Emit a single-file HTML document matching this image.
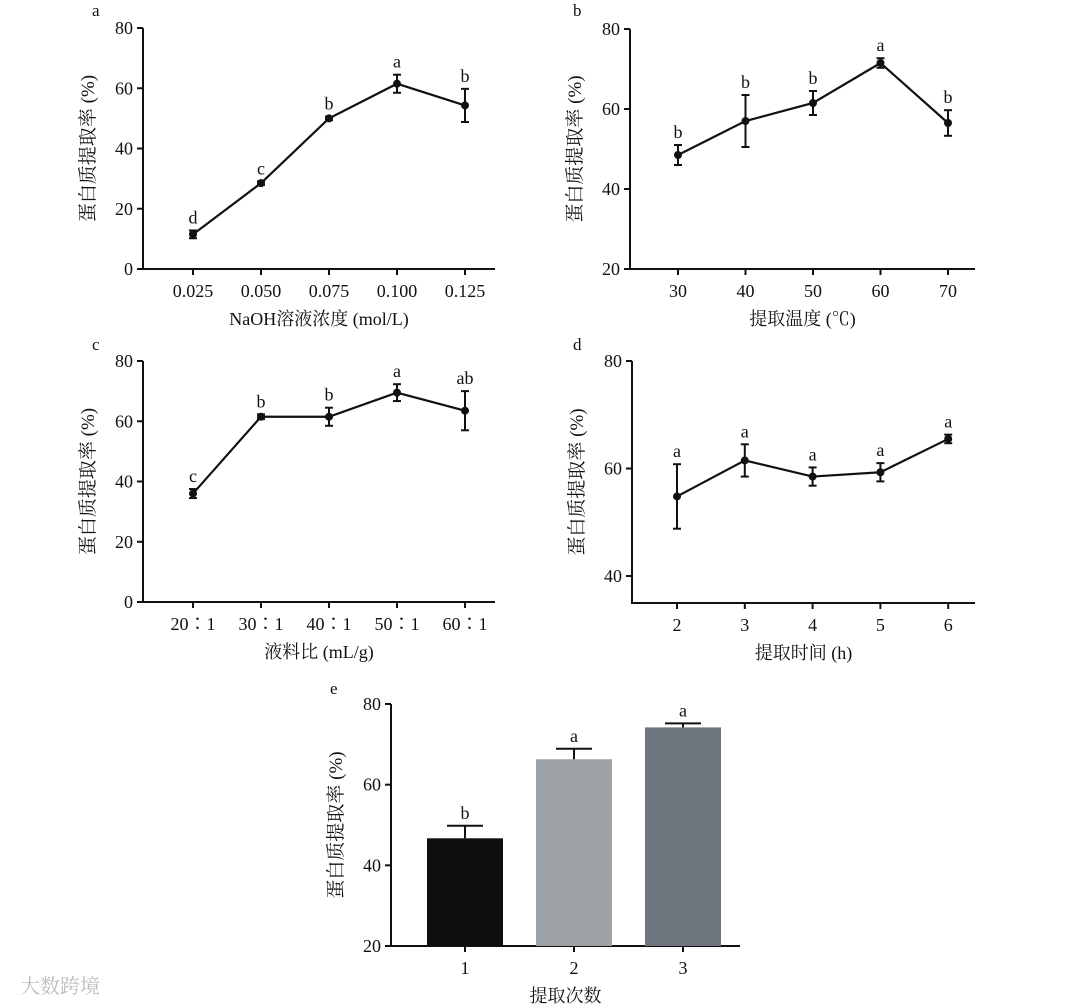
<!DOCTYPE html>
<html><head><meta charset="utf-8"><style>
html,body{margin:0;padding:0;background:#fff;}
svg{display:block;font-family:"Liberation Serif","Noto Serif CJK SC",serif;}
</style></head><body>
<svg id="chart" width="1080" height="1005" viewBox="0 0 1080 1005" xmlns="http://www.w3.org/2000/svg"></svg>
<script>
// Panel a
const aCats=["0.025","0.050","0.075","0.100","0.125"];
const aVals=[11.5,28.5,50,61.5,54.3];
const aErrs=[1.3,0.6,0.6,3,5.5];
const aSig=["d","c","b","a","b"];
const aTicks=[0,20,40,60,80];
// Panel b
const bCats=["30","40","50","60","70"];
const bVals=[48.5,57,61.5,71.5,56.5];
const bErrs=[2.5,6.5,3,1.2,3.2];
const bSig=["b","b","b","a","b"];
const bTicks=[20,40,60,80];
// Panel c
const cCats=["20∶1","30∶1","40∶1","50∶1","60∶1"];
const cVals=[36,61.5,61.5,69.5,63.5];
const cErrs=[1.5,0.8,3,2.8,6.5];
const cSig=["c","b","b","a","ab"];
const cTicks=[0,20,40,60,80];
// Panel d
const dCats=["2","3","4","5","6"];
const dVals=[54.8,61.5,58.5,59.3,65.5];
const dErrs=[6,3,1.7,1.7,0.8];
const dSig=["a","a","a","a","a"];
const dTicks=[40,60,80];
// Panel e
const eCats=["1","2","3"];
const eVals=[46.7,66.3,74.2];
const eErrs=[3.1,2.6,1];
const eSig=["b","a","a"];
const eTicks=[20,40,60,80];
const eColors=["#0e0e0e","#9ca2a6","#6e757e"];

const svg=document.getElementById('chart');
const NS='http://www.w3.org/2000/svg';
function mk(tag,attrs,parent){const e=document.createElementNS(NS,tag);for(const k in attrs)e.setAttribute(k,attrs[k]);(parent||svg).appendChild(e);return e;}
function txt(s,x,y,size,anchor,parent){const t=mk('text',{x:x,y:y,'font-size':size,'text-anchor':anchor||'middle',fill:'#111'},parent);t.textContent=s;return t;}

function panel(o){
  const g=mk('g',{});
  
  
  const ys=v=>o.y0+(v-o.vmin)*(o.y1-o.y0)/(o.vmax-o.vmin);
  const xs=i=>o.x0+i*o.dx;
  const lab=txt(o.id,o.lx,o.ly,17,'start',g);
  
  
  const ya=mk('line',{x1:o.ax,y1:ys(o.vmax),x2:o.ax,y2:o.bottom,stroke:'#111','stroke-width':2},g);
  
  
  const xa=mk('line',{x1:o.ax-1,y1:o.bottom,x2:o.xend,y2:o.bottom,stroke:'#111','stroke-width':2},g);
  
  
  o.ticks.forEach(t=>{
    mk('line',{x1:o.ax-6,y1:ys(t),x2:o.ax,y2:ys(t),stroke:'#111','stroke-width':2},g);
    const tl=txt(String(t),o.ax-10,ys(t)+6,18,'end',g);
    
    
  });
  o.cats.forEach((c,i)=>{
    mk('line',{x1:xs(i),y1:o.bottom,x2:xs(i),y2:o.bottom+6,stroke:'#111','stroke-width':2},g);
    const tl=txt(c,xs(i),o.bottom+28,18,'middle',g);
    
    
  });
  const xt=txt(o.xtitle,(o.ax+o.xend)/2,o.bottom+56,18,'middle',g);
  
  
  const yc=(ys(o.vmax)+o.bottom)/2;
  const yt=txt('蛋白质提取率 (%)',0,0,19,'middle',g);
  yt.setAttribute('transform','translate('+(o.ax-49)+','+yc+') rotate(-90)');
  
  
  if(o.bars){
    o.vals.forEach((v,i)=>{
      const top=ys(v);
      const r=mk('rect',{x:xs(i)-38,y:top,width:76,height:o.bottom-top,fill:o.colors[i]},g);
      
      
      const ye=ys(v+o.errs[i]);
      mk('line',{x1:xs(i),y1:top,x2:xs(i),y2:ye,stroke:'#111','stroke-width':2},g);
      mk('line',{x1:xs(i)-18,y1:ye,x2:xs(i)+18,y2:ye,stroke:'#111','stroke-width':2},g);
      const s=txt(o.sig[i],xs(i),ye-7,18,'middle',g);
      
      
    });
  } else {
    const pts=o.vals.map((v,i)=>xs(i)+','+ys(v)).join(' ');
    const pl=mk('polyline',{points:pts,fill:'none',stroke:'#111','stroke-width':2.2},g);
    
    
    o.vals.forEach((v,i)=>{
      const hi=ys(v+o.errs[i]),lo=ys(v-o.errs[i]);
      mk('line',{x1:xs(i),y1:hi,x2:xs(i),y2:lo,stroke:'#111','stroke-width':2},g);
      mk('line',{x1:xs(i)-4,y1:hi,x2:xs(i)+4,y2:hi,stroke:'#111','stroke-width':2},g);
      mk('line',{x1:xs(i)-4,y1:lo,x2:xs(i)+4,y2:lo,stroke:'#111','stroke-width':2},g);
      const p=mk('circle',{cx:xs(i),cy:ys(v),r:4,fill:'#111'},g);
      
      
      const s=txt(o.sig[i],xs(i),hi-7,18,'middle',g);
      
      
    });
  }
}
panel({id:'a',lx:92,ly:16,ax:143,xend:495,bottom:269,y0:269,y1:28,vmin:0,vmax:80,x0:193,dx:68,cats:aCats,vals:aVals,errs:aErrs,sig:aSig,ticks:aTicks,xtitle:'NaOH溶液浓度 (mol/L)'});
panel({id:'b',lx:573,ly:16,ax:630,xend:975,bottom:269,y0:269,y1:29,vmin:20,vmax:80,x0:678,dx:67.5,cats:bCats,vals:bVals,errs:bErrs,sig:bSig,ticks:bTicks,xtitle:'提取温度 (℃)'});
panel({id:'c',lx:92,ly:350,ax:143,xend:495,bottom:602,y0:602,y1:361,vmin:0,vmax:80,x0:193,dx:68,cats:cCats,vals:cVals,errs:cErrs,sig:cSig,ticks:cTicks,xtitle:'液料比 (mL/g)'});
panel({id:'d',lx:573,ly:350,ax:632,xend:975,bottom:603,y0:576,y1:361,vmin:40,vmax:80,x0:677,dx:67.8,cats:dCats,vals:dVals,errs:dErrs,sig:dSig,ticks:dTicks,xtitle:'提取时间 (h)'});
panel({id:'e',lx:330,ly:694,ax:391,xend:740,bottom:946,y0:946,y1:704,vmin:20,vmax:80,x0:465,dx:109,cats:eCats,vals:eVals,errs:eErrs,sig:eSig,ticks:eTicks,xtitle:'提取次数',bars:true,colors:eColors});
const wm=txt('大数跨境',20,993,20,'start');
wm.setAttribute('fill','#bbb');


</script>
</body></html>
